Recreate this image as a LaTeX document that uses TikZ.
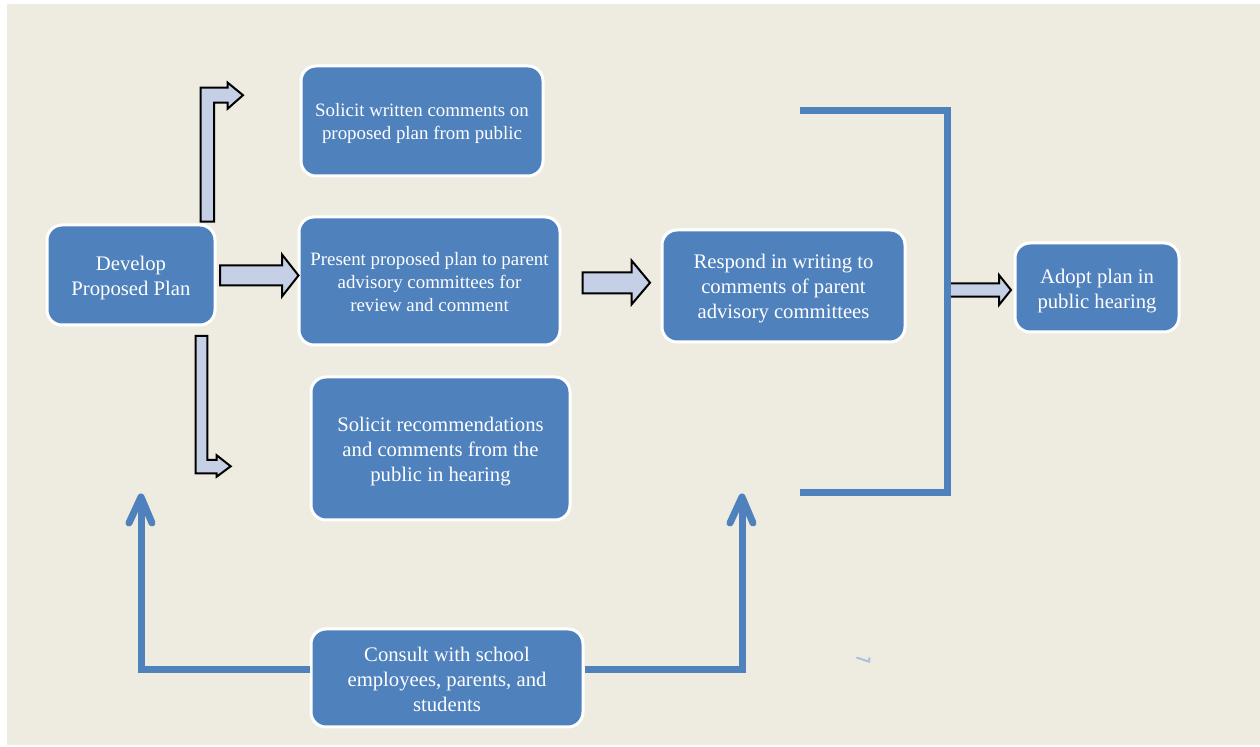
\documentclass[tikz,border=0pt]{standalone}
\usepackage{fontspec}
\setmainfont{Liberation Serif}
\definecolor{bgbeige}{HTML}{EEEBE0}
\definecolor{boxblue}{HTML}{4F81BD}
\definecolor{arrfill}{HTML}{C5D0E6}
\definecolor{markblue}{HTML}{AFBEDD}
\begin{document}
\begin{tikzpicture}[x=0.5pt,y=-0.5pt,
  box/.style={draw=white, line width=1.5pt, fill=boxblue, rounded corners=7.5pt, inner sep=0pt},
  boxtext/.style={text=white, align=center, inner sep=0pt,
    font=\fontsize{10.35}{12.5}\selectfont},
  smalltext/.style={boxtext, font=\fontsize{9.45}{11.5}\selectfont},
  blockarrow/.style={draw=black, fill=arrfill, line width=1pt, line join=miter},
  blueline/.style={draw=boxblue, line width=3.5pt, line join=miter},
  chevron/.style={draw=boxblue, line width=3.5pt, line cap=round, line join=round}]
\useasboundingbox (0,0) rectangle (1260,747);
\fill[white] (0,0) rectangle (1260,747);
\fill[bgbeige] (7,4) rectangle (1260,745);

% boxes
\node[box, minimum width=84pt, minimum height=50pt] (develop) at (131,275) {};
\node[box, minimum width=121pt, minimum height=55pt] (written) at (422,121) {};
\node[box, minimum width=130.5pt, minimum height=64pt] (present) at (429.5,281) {};
\node[box, minimum width=129.5pt, minimum height=71.5pt] (recomm) at (440.5,448.5) {};
\node[box, minimum width=121.5pt, minimum height=56pt] (respond) at (783.5,286) {};
\node[box, minimum width=82pt, minimum height=44.5pt] (adopt) at (1097,287.5) {};
\node[box, minimum width=136pt, minimum height=49pt] (consult) at (447,678) {};

% texts
\node[boxtext, yshift=-1.4pt] (developT) at (develop.center) {Develop\\Proposed Plan};
\node[smalltext, yshift=-1.2pt] (writtenT) at (written.center) {Solicit written comments on\\proposed plan from public};
\node[smalltext, yshift=-0.5pt] (presentT) at (present.center) {Present proposed plan to parent\\advisory committees for\\review and comment};
\node[boxtext, yshift=-1.4pt] (recommT) at (recomm.center) {Solicit recommendations\\and comments from the\\public in hearing};
\node[boxtext, yshift=-1.3pt] (respondT) at (respond.center) {Respond in writing to\\comments of parent\\advisory committees};
\node[boxtext, yshift=-1.6pt] (adoptT) at (adopt.center) {Adopt plan in\\public hearing};
\node[boxtext, yshift=-0.5pt] (consultT) at (consult.center) {Consult with school\\employees, parents, and\\students};

% block arrows
\draw[blockarrow] (200.7,221.7) -- (200.7,87.7) -- (227.7,87.7) -- (227.7,82.7) -- (243,95.2) -- (227.7,108.7) -- (227.7,102.7) -- (214,102.7) -- (214,221.7) -- cycle;
\draw[blockarrow] (195.7,336) -- (195.7,473.3) -- (216.7,473.3) -- (216.7,476.7) -- (230.7,466.3) -- (216.7,455.3) -- (216.7,460) -- (207.3,460) -- (207.3,336) -- cycle;
\draw[blockarrow] (220,265.5) -- (282,265.5) -- (282,254.5) -- (298.5,275.5) -- (282,296.5) -- (282,285.5) -- (220,285.5) -- cycle;
\draw[blockarrow] (582.7,272.3) -- (631.7,272.3) -- (631.7,260.7) -- (650,282.7) -- (631.7,304.3) -- (631.7,293.3) -- (582.7,293.3) -- cycle;
\draw[blockarrow] (947,283.3) -- (999,283.3) -- (999,275) -- (1011,290) -- (999,305) -- (999,296.7) -- (947,296.7) -- cycle;

% bracket
\coordinate (bt) at (800,110.7);
\coordinate (bb) at (800,493);
\draw[blueline] (bt) -- (947,110.7) -- (947,493) -- (bb);

% lines from consult
\coordinate (ltip) at (141,497);
\coordinate (rtip) at (742,497);
\draw[blueline] ([yshift=4pt]consult.west) -| ([yshift=-1.5pt]ltip);
\draw[chevron] (129,523) -- (ltip) -- (152,523);
\draw[blueline] ([yshift=4pt]consult.east) -| ([yshift=-1.5pt]rtip);
\draw[chevron] (730,523) -- (rtip) -- (753,523);

% stray mark
\draw[markblue, line width=1pt, line cap=round] (857,657.7) -- (869,661.7) -- (869.5,658);
\end{tikzpicture}
\end{document}
